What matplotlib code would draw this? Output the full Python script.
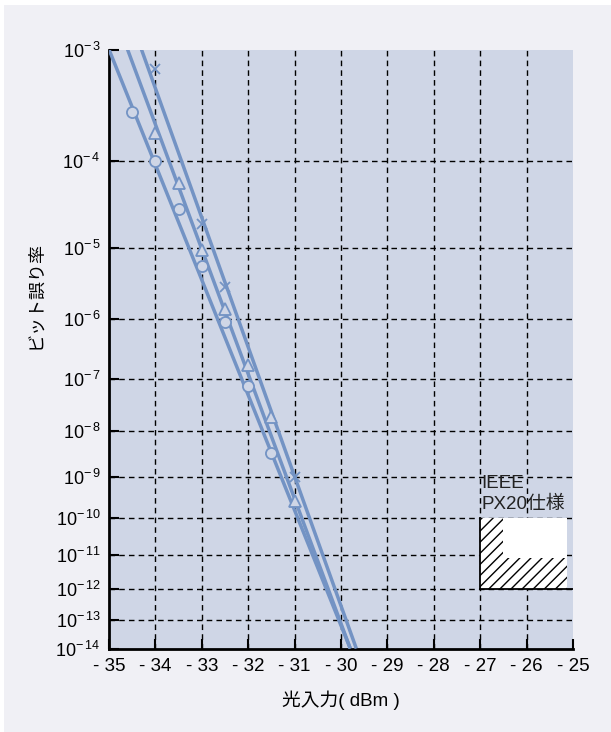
import numpy as np
import matplotlib.pyplot as plt
from matplotlib.patches import Polygon, Rectangle

plt.rcParams['font.family'] = ['Liberation Sans', 'Noto Sans CJK JP', 'DejaVu Sans']
plt.rcParams['mathtext.default'] = 'regular'
plt.rcParams['hatch.linewidth'] = 1.0

# measured points
x_circle = [-34.5, -34.0, -33.5, -33.0, -32.5, -32.0, -31.5]
ber_circle = [3.0e-4, 1.0e-4, 3.0e-5, 5.8e-6, 9.0e-7, 7.5e-8, 3.4e-9]

x_tri = [-34.0, -33.5, -33.0, -32.5, -32.0, -31.5, -31.0]
ber_tri = [1.9e-4, 5.9e-5, 9.5e-6, 1.4e-6, 1.8e-7, 1.9e-8, 2.6e-10]

x_cross = [-34.0, -33.0, -32.5, -31.0]
ber_cross = [7.0e-4, 2.0e-5, 3.0e-6, 1.0e-9]

# fitted lines (x at BER 1e-3 and at BER 1e-14)
fit_ber = [1e-3, 1e-14]
fit_circle = [-35.0, -29.8]
fit_tri = [-34.6, -29.8]
fit_cross = [-34.3, -29.67]

# IEEE spec region
spec_x = [-27.0, -26.5, -25.13]
spec_ber = [1e-10, 8e-12, 1e-12]

xticks = list(range(-35, -24))
xticklabels = ['- %d' % abs(v) for v in xticks]
yexp = list(range(3, 15))

line_color = '#7393c4'


def fwd(y):
    with np.errstate(divide='ignore', invalid='ignore'):
        return -np.log10(-np.log10(y))


def inv(u):
    return 10.0 ** (-(10.0 ** (-u)))


fig = plt.figure(figsize=(6.11, 7.32), dpi=100)
fig.patch.set_facecolor('white')
fig.patches.append(Rectangle((4 / 611, 0), 1, 1 - 5 / 732, transform=fig.transFigure,
                             facecolor='#f0f0f5', edgecolor='none', zorder=-10))

ax = fig.add_axes([109 / 611, 1 - 648.5 / 732, 464 / 611, 599 / 732])
ax.set_facecolor('#cfd6e6')
ax.set_yscale('function', functions=(fwd, inv))
ax.set_xlim(-35, -25)
ax.set_ylim(1e-14, 1e-3)

# grid
for xv in xticks[1:-1]:
    ax.axvline(xv, color='black', lw=1.0, ls=(0, (4, 3)), zorder=1)
for e in yexp[1:-1]:
    ax.axhline(10.0 ** (-e), color='black', lw=1.0, ls=(0, (4, 3)), zorder=1)

# spec box
ax.add_patch(Rectangle((spec_x[0], spec_ber[2]), spec_x[2] - spec_x[0], spec_ber[0] - spec_ber[2],
                       facecolor='white', edgecolor='none', zorder=2))
hatch = Polygon([(spec_x[0], spec_ber[0]), (spec_x[1], spec_ber[0]), (spec_x[1], spec_ber[1]),
                 (spec_x[2], spec_ber[1]), (spec_x[2], spec_ber[2]), (spec_x[0], spec_ber[2])],
                closed=True, facecolor='none', edgecolor='black', lw=0, hatch='///', zorder=3)
ax.add_patch(hatch)
ax.plot([spec_x[0], spec_x[0]], [spec_ber[0], spec_ber[2]], color='black', lw=1.3, zorder=4)
ax.plot([spec_x[0], -25], [spec_ber[2], spec_ber[2]], color='black', lw=1.3, zorder=4)
ax.text(spec_x[0] + 0.02, 1.35e-10, 'IEEE\nPX20仕様', fontsize=13.5, ha='left', va='bottom',
        linespacing=1.25, color='#222222', zorder=5)

# lines
for fx in (fit_circle, fit_tri, fit_cross):
    ax.plot(fx, fit_ber, color=line_color, lw=2.5, zorder=5, solid_capstyle='butt')

ax.plot(x_circle, ber_circle, 'o', ms=8, mfc='#cfd6e6', mec=line_color, mew=1.3, zorder=6)
ax.plot(x_tri, ber_tri, '^', ms=9, mfc='#cfd6e6', mec=line_color, mew=1.3, zorder=6)
ax.plot(x_cross, ber_cross, 'x', ms=7, mec=line_color, mew=1.3, zorder=6)

# axes
ax.set_xticks(xticks)
ax.set_xticklabels(xticklabels, fontsize=13.5)
ax.set_yticks([10.0 ** (-e) for e in yexp])
ax.set_yticklabels(['10$^{-\\,%d}$' % e for e in yexp], fontsize=13)
ax.tick_params(axis='both', direction='in', length=7, width=1.5, color='black')
ax.tick_params(axis='x', pad=7)
ax.tick_params(axis='y', pad=6)
ax.yaxis.set_minor_locator(plt.NullLocator())
ax.xaxis.set_minor_locator(plt.NullLocator())

for s in ('top', 'right'):
    ax.spines[s].set_visible(False)
for s in ('left', 'bottom'):
    ax.spines[s].set_linewidth(2)
    ax.spines[s].set_color('black')

ax.set_xlabel('光入力( dBm )', fontsize=13.5, labelpad=11)
ax.set_ylabel('ビット誤り率', fontsize=13)
ax.yaxis.set_label_coords(-0.14, 0.59)

fig.savefig('out.png', dpi=100, facecolor=fig.get_facecolor())
